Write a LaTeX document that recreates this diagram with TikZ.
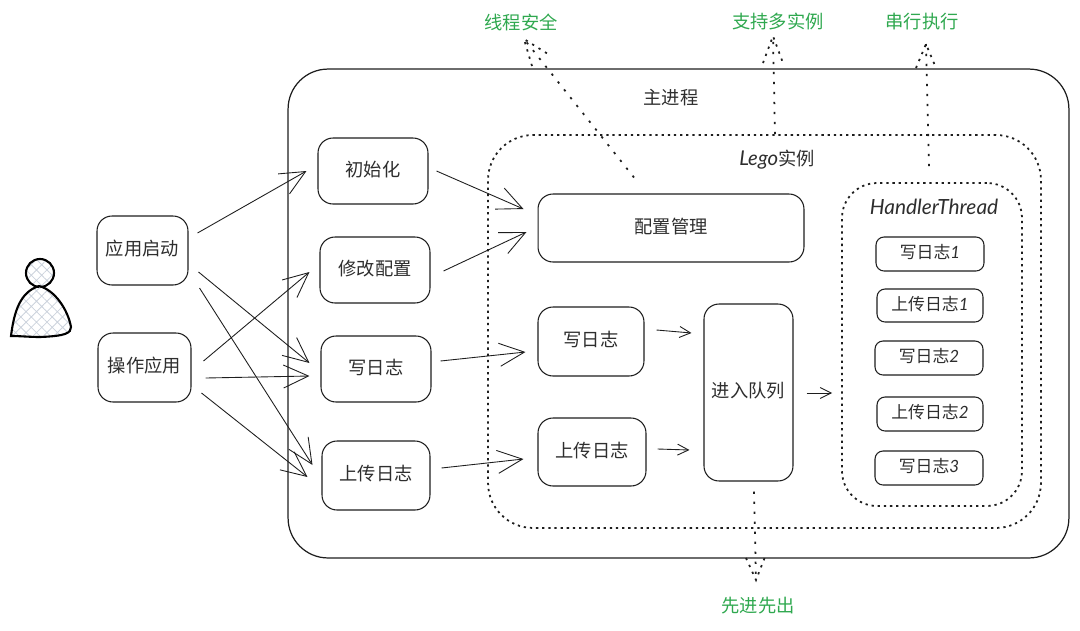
\documentclass[tikz,border=0pt]{standalone}
\usepackage{fontspec}
\setmainfont{Noto Sans CJK SC}
\newfontfamily\handfont{Lato}
\usetikzlibrary{arrows.meta,patterns.meta}
\definecolor{ink}{HTML}{1E1E1E}
\definecolor{textink}{HTML}{2E2E2E}
\definecolor{notegreen}{HTML}{2FA84F}
\definecolor{hatchline}{HTML}{CBD2DC}
\newcommand{\ten}{\fontsize{10.4}{12}\selectfont}
\newcommand{\nine}{\fontsize{9.6}{11}\selectfont}
\newcommand{\dothead}[5]{\draw[dotbarb] ([shift={(#2,#3)}]#1) -- (#1) -- ([shift={(#4,#5)}]#1);}
\tikzset{
 every node/.append style={font=\ten,text=textink,align=center},
 box/.style={draw=ink,fill=white,rounded corners=3mm,line width=.6pt,inner sep=0pt,text depth=1mm,minimum width=22mm,minimum height=13.4mm},
 taskbox/.style={box,rounded corners=1.6mm,minimum height=6.8mm,font=\nine},
 region/.style={draw=ink,rounded corners=8mm,line width=.7pt,fill=white,inner sep=0pt},
 dotregion/.style={draw=ink,rounded corners=9mm,line width=1pt,dash pattern=on 1.3pt off 2.2pt,inner sep=0pt},
 flow/.style={-{Straight Barb[length=5mm,width=4.6mm,line width=.5pt]},draw=ink,line width=.5pt},
 shortflow/.style={-{Straight Barb[length=2.2mm,width=2.2mm,line width=.5pt]},draw=ink,line width=.5pt},
 dotflow/.style={draw=ink,line width=1pt,dash pattern=on 1.3pt off 4.4pt},
 dotbarb/.style={draw=ink,line width=1pt,dash pattern=on 1.3pt off 3pt},
 note/.style={text=notegreen,inner sep=1pt},
 word/.style={inner sep=1pt},
 person/.style={draw=black,line width=1.2pt,pattern={Hatch[angle=45,distance=4.2pt,line width=.45pt]},pattern color=hatchline},
}
\begin{document}
\begin{tikzpicture}[x=.02cm,y=-.02cm]
\useasboundingbox (0,0) rectangle (1080,630);

\draw[person] (40,273) circle (14);
\draw[person] (11,336) .. controls (14,312) and (20,292) .. (39,286) .. controls (55,290) and (68,310) .. (71,327) .. controls (71,333) and (66,336) .. (40,337) .. controls (30,337) and (20,336) .. (11,336) -- cycle;

\node[region,minimum width=156.2mm,minimum height=97.8mm] (main) at (678.5,313.5) {};
\node[dotregion,minimum width=110.6mm,minimum height=78.6mm] (lego) at (764.5,331.5) {};
\node[dotregion,rounded corners=7mm,minimum width=36mm,minimum height=64.6mm] (handler) at (932,344.5) {};

\node[word] (maintitle) at (671,98) {主进程};
\node[word] (legotitle) at (777,160) {{\handfont\itshape\fontsize{11.6}{13}\selectfont Lego}实例};
\node[word,font=\handfont\itshape\fontsize{11.9}{14}\selectfont] (handlertitle) at (934,207) {HandlerThread};

\node[box,minimum width=18.2mm,minimum height=13.8mm] (appstart) at (142.5,250.5) {应用启动};
\node[box,minimum width=18.6mm,minimum height=13.8mm] (operate) at (144.5,367.5) {操作应用};

\node[box,minimum height=13.2mm] (init) at (373,171) {初始化};
\node[box,minimum height=13.2mm] (modify) at (375,270) {修改配置};
\node[box,minimum height=13.2mm] (write) at (376,369) {写日志};
\node[box,minimum width=21.6mm,minimum height=13.8mm] (upload) at (376,475.5) {上传日志};

\node[box,minimum width=53.2mm,minimum height=13.6mm] (config) at (671,228) {配置管理};
\node[box,minimum width=21.2mm,minimum height=13.8mm] (logwrite) at (591,341.5) {写日志};
\node[box,minimum width=21.6mm,minimum height=13.6mm] (logupload) at (592,452) {上传日志};
\node[box,minimum width=17.8mm,minimum height=35.4mm] (queue) at (748.5,392.5) {进入队列};

\node[taskbox,minimum width=21.6mm] (task1) at (930,254) {写日志{\handfont\itshape 1}};
\node[taskbox,minimum width=21.2mm,minimum height=6.6mm] (task2) at (930,305.5) {上传日志{\handfont\itshape 1}};
\node[taskbox,minimum width=21.6mm] (task3) at (929,358) {写日志{\handfont\itshape 2}};
\node[taskbox,minimum width=21.2mm] (task4) at (930,414) {上传日志{\handfont\itshape 2}};
\node[taskbox,minimum width=21.6mm] (task5) at (929,468) {写日志{\handfont\itshape 3}};

\draw[flow] ([shift={(9,-17.5)}]appstart.east) -- ([shift={(-11,0)}]init.west);
\draw[flow] ([shift={(10,21.5)}]appstart.east) -- ([shift={(-11,-6)}]write.west);
\draw[flow] ([shift={(11,37.5)}]appstart.east) -- ([shift={(-9,-10.5)}]upload.west);
\draw[flow] ([shift={(12,-6.5)}]operate.east) -- ([shift={(-10,2)}]modify.west);
\draw[flow] ([shift={(14,10.5)}]operate.east) -- ([shift={(-11,7)}]write.west);
\draw[flow] ([shift={(10,25.5)}]operate.east) -- ([shift={(-14,1.5)}]upload.west);

\draw[flow] ([shift={(8,0)}]init.east) -- ([shift={(-14,-19)}]config.west);
\draw[flow] ([shift={(13,1)}]modify.east) -- ([shift={(-11,4)}]config.west);
\draw[flow] ([shift={(9,-8)}]write.east) -- ([shift={(-12,10.5)}]logwrite.west);
\draw[flow] ([shift={(11,-7.5)}]upload.east) -- ([shift={(-14,7)}]logupload.west);

\draw[shortflow] ([shift={(12,-11.5)}]logwrite.east) -- ([shift={(-12,-59.5)}]queue.west);
\draw[shortflow] ([shift={(11,-3)}]logupload.east) -- ([shift={(-14,57.5)}]queue.west);
\draw[shortflow] ([shift={(13,.5)}]queue.east) -- ([shift={(-9,48.5)}]handler.west);

\node[note] (safe) at (521,22) {线程安全};
\node[note] (multi) at (778,22) {支持多实例};
\node[note] (serial) at (922,22) {串行执行};
\node[note] (fifo) at (758,606) {先进先出};
\coordinate (safetip) at (524,39);
\coordinate (multitip) at (773,36);
\coordinate (serialtip) at (926,44);
\coordinate (fifotip) at (756,580);

\draw[dotflow] ([shift={(-37,-16)}]config.north) -- (safetip);
\dothead{safetip}{8}{27}{24}{15}
\draw[dotflow] ([shift={(10.5,0)}]lego.north) -- (multitip);
\dothead{multitip}{-10}{27}{10}{27}
\draw[dotflow] ([shift={(-3,-16)}]handler.north) -- (serialtip);
\dothead{serialtip}{-10}{24}{10}{24}
\draw[dotflow] ([shift={(5.5,10)}]queue.south) -- (fifotip);
\dothead{fifotip}{-10}{-22}{9}{-23}

\end{tikzpicture}
\end{document}
